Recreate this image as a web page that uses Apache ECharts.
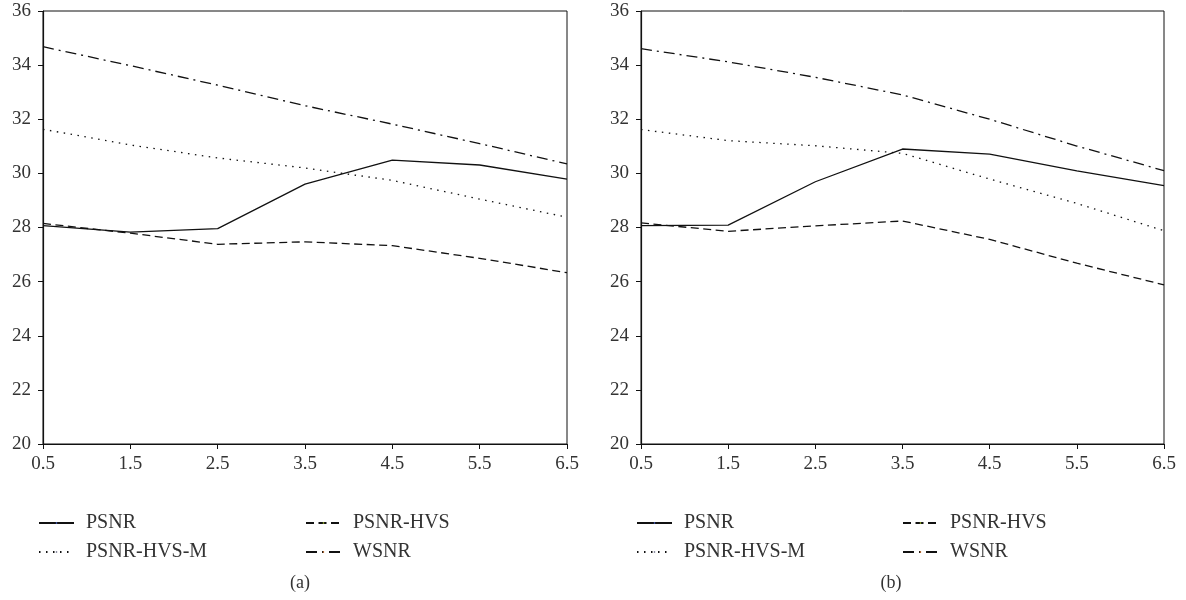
<!DOCTYPE html>
<html>
<head>
<meta charset="utf-8">
<script src="https://cdn.jsdelivr.net/npm/echarts@6/dist/echarts.min.js"></script>
<style>
  html, body { margin: 0; padding: 0; background: #fff; }
  #chart { width: 1186px; height: 600px; }
</style>
</head>
<body>
<div id="chart"></div>
<script>
// Bit-rate steps on the horizontal axis
const xCategories = ['0.5', '1.5', '2.5', '3.5', '4.5', '5.5', '6.5'];

// Panel (a)
const psnrA      = [28.07, 27.83, 27.96, 29.60, 30.49, 30.31, 29.79];
const psnrHvsA   = [28.15, 27.79, 27.38, 27.47, 27.33, 26.86, 26.33];
const psnrHvsMA  = [31.63, 31.05, 30.57, 30.20, 29.74, 29.05, 28.38];
const wsnrA      = [34.68, 33.98, 33.26, 32.50, 31.82, 31.10, 30.35];

// Panel (b)
const psnrB      = [28.07, 28.09, 29.69, 30.90, 30.71, 30.09, 29.55];
const psnrHvsB   = [28.17, 27.86, 28.06, 28.24, 27.56, 26.68, 25.88];
const psnrHvsMB  = [31.62, 31.21, 31.02, 30.74, 29.79, 28.89, 27.88];
const wsnrB      = [34.61, 34.12, 33.55, 32.90, 32.00, 31.01, 30.10];

const seriesNames = ['PSNR', 'PSNR-HVS', 'PSNR-HVS-M', 'WSNR'];
const yTicks = { min: 20, max: 36, step: 2 };

const FONT = 'Liberation Serif';
const TEXT = '#333';
const INK = '#111';

const dashStyles = {
  'PSNR': 'solid',
  'PSNR-HVS': [8, 4.5],
  'PSNR-HVS-M': [1.5, 5.5],
  'WSNR': [11, 5, 2, 5]
};

const panels = [
  { left: 43, width: 524, data: [psnrA, psnrHvsA, psnrHvsMA, wsnrA], caption: '(a)', legendLeft: [38, 305], captionX: 300 },
  { left: 641, width: 523, data: [psnrB, psnrHvsB, psnrHvsMB, wsnrB], caption: '(b)', legendLeft: [636, 902], captionX: 891 }
];

const grid = [], xAxis = [], yAxis = [], series = [], legend = [], graphic = [];

panels.forEach((p, i) => {
  grid.push({
    left: p.left, top: 11, width: p.width, height: 433,
    show: true, borderColor: INK, borderWidth: 1, backgroundColor: 'transparent'
  });
  xAxis.push({
    type: 'category', gridIndex: i, data: xCategories, boundaryGap: false,
    axisLine: { lineStyle: { color: INK, width: 1.2 } },
    axisTick: { show: true, length: 5, lineStyle: { color: INK } },
    axisLabel: { color: TEXT, fontFamily: FONT, fontSize: 19, margin: 11, showMinLabel: true, showMaxLabel: true },
    splitLine: { show: false }
  });
  yAxis.push({
    type: 'value', gridIndex: i, min: yTicks.min, max: yTicks.max, interval: yTicks.step,
    axisLine: { show: true, lineStyle: { color: INK, width: 1.2 } },
    axisTick: { show: true, length: 5, lineStyle: { color: INK } },
    axisLabel: { color: TEXT, fontFamily: FONT, fontSize: 19, margin: 12 },
    splitLine: { show: false }
  });
  p.data.forEach((vals, k) => {
    series.push({
      name: seriesNames[k], type: 'line', xAxisIndex: i, yAxisIndex: i,
      data: vals, symbol: 'none', smooth: false, silent: true, animation: false,
      lineStyle: { color: INK, width: 1.3, type: dashStyles[seriesNames[k]] }
    });
  });
  // Two-column legend under each panel
  const rows = [[seriesNames[0], seriesNames[1]], [seriesNames[2], seriesNames[3]]];
  const rowTop = [513, 542];
  rows.forEach((row, r) => {
    row.forEach((name, c) => {
      legend.push({
        data: [name], left: p.legendLeft[c], top: rowTop[r],
        itemWidth: 35, itemHeight: 2, padding: 0, selectedMode: false,
        textStyle: { color: TEXT, fontFamily: FONT, fontSize: 20, padding: [0, 0, 0, 7] }
      });
    });
  });
  graphic.push({
    type: 'text', x: p.captionX, y: 583,
    style: { text: p.caption, fill: TEXT, font: '18px "' + FONT + '"', textAlign: 'center', textVerticalAlign: 'middle' }
  });
});

const chart = echarts.init(document.getElementById('chart'), null, { renderer: 'canvas' });
chart.setOption({
  animation: false,
  backgroundColor: '#fff',
  grid, xAxis, yAxis, series, legend, graphic
});
</script>
</body>
</html>
